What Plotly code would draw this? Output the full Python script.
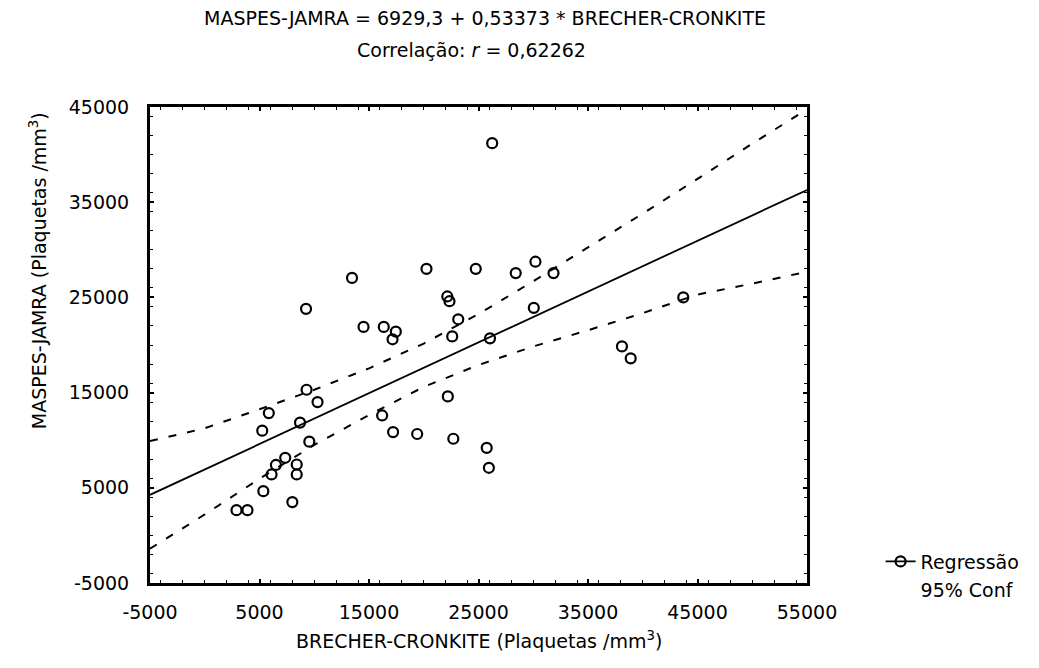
import plotly.graph_objects as go

# ---- data ----
brecher_cronkite = [26250, 13450, 20250, 24750, 28400, 30200, 31850, 9250, 14500, 16350,
                    17450, 17150, 22150, 22350, 23150, 22600, 26050, 30050, 43700, 38100,
                    38900, 22200, 16200, 17200, 19400, 22700, 25750, 25950, 9300, 10300,
                    5850, 5250, 8700, 9550, 7350, 6500, 6100, 8400, 8400, 5350,
                    8000, 2900, 3900]
maspes_jamra = [41200, 27050, 28000, 28000, 27550, 28750, 27550, 23800, 21900, 21900,
                21400, 20600, 25100, 24600, 22700, 20900, 20700, 23900, 25000, 19850,
                18600, 14600, 12600, 10850, 10650, 10150, 9200, 7100, 15300, 14000,
                12850, 11000, 11850, 9850, 8150, 7400, 6400, 7450, 6400, 4650,
                3500, 2650, 2650]

reg_x = [-5000, 55000]
reg_y = [4261, 36284]

band_x = [-5000, 0, 5000, 10000, 15000, 20000, 25000, 30000, 35000, 40000, 45000, 50000, 55000]
band_upper = [9900, 11250, 13250, 15300, 17550, 20150, 23250, 26700, 30250, 33800, 37450, 41150, 44750]
band_lower = [-1400, 2200, 5950, 9500, 12650, 15600, 17900, 19850, 21550, 23350, 25300, 26450, 27700]

x_ticks = [-5000, 5000, 15000, 25000, 35000, 45000, 55000]
y_ticks = [-5000, 5000, 15000, 25000, 35000, 45000]

title_line1 = "MASPES-JAMRA = 6929,3 + 0,53373 * BRECHER-CRONKITE"
title_line2 = "Correlação: <i>r</i> = 0,62262"
x_title = "BRECHER-CRONKITE (Plaquetas /mm<sup>3</sup>)"
y_title = "MASPES-JAMRA (Plaquetas /mm<sup>3</sup>)"

FONT = "DejaVu Sans, Verdana, sans-serif"
FS = 19

fig = go.Figure()

dash_style = dict(color="black", width=2, dash="8px,11px")
fig.add_trace(go.Scatter(x=band_x, y=band_upper, mode="lines", line=dash_style,
                         showlegend=False, hoverinfo="skip"))
fig.add_trace(go.Scatter(x=band_x, y=band_lower, mode="lines", line=dash_style,
                         showlegend=False, hoverinfo="skip"))
fig.add_trace(go.Scatter(x=reg_x, y=reg_y, mode="lines",
                         line=dict(color="black", width=1.8),
                         showlegend=False))
fig.add_trace(go.Scatter(x=brecher_cronkite, y=maspes_jamra, mode="markers",
                         marker=dict(symbol="circle-open", size=10, color="black",
                                     line=dict(width=2.2, color="black")),
                         showlegend=False))
# legend entries
fig.add_trace(go.Scatter(x=[None], y=[None], mode="lines+markers", name="Regressão",
                         line=dict(color="black", width=1.8),
                         marker=dict(symbol="circle-open", size=10, color="black",
                                     line=dict(width=2.2, color="black"))))
fig.add_trace(go.Scatter(x=[None], y=[None], mode="lines", name="95% Conf",
                         line=dict(color="rgba(0,0,0,0)", width=1)))

axis_common = dict(
    showgrid=False, zeroline=False, showline=True, linewidth=3, linecolor="black",
    mirror="ticks", ticks="inside", ticklen=4, tickwidth=1.5, tickcolor="black",
    tickfont=dict(family=FONT, size=FS, color="black"),
    minor=dict(ticks="inside", ticklen=3, tickwidth=1.3, tickcolor="black", dtick=2000, showgrid=False),
)

fig.update_layout(
    width=1039, height=668,
    margin=dict(l=150, r=232, t=107, b=85),
    paper_bgcolor="white", plot_bgcolor="white",
    font=dict(family=FONT, color="black"),
    xaxis=dict(range=[-5000, 55000], tickmode="array", tickvals=x_ticks,
               ticktext=[str(v) for v in x_ticks], ticklabelstandoff=10,
               **axis_common),
    yaxis=dict(range=[-5000, 45000], tickmode="array", tickvals=y_ticks,
               ticktext=[str(v) for v in y_ticks], ticklabelstandoff=14,
               **axis_common),
    legend=dict(x=1.112, y=0.085, xanchor="left", yanchor="top",
                font=dict(family=FONT, size=FS, color="black"),
                bgcolor="rgba(0,0,0,0)", tracegroupgap=0, itemwidth=30),
    annotations=[
        dict(text=title_line1, xref="paper", yref="paper", x=0.51, y=1.0, yshift=89,
             showarrow=False, xanchor="center", yanchor="middle",
             font=dict(family=FONT, size=FS, color="black")),
        dict(text=title_line2, xref="paper", yref="paper", x=0.49, y=1.0, yshift=57,
             showarrow=False, xanchor="center", yanchor="middle",
             font=dict(family=FONT, size=FS, color="black")),
        dict(text=x_title, xref="paper", yref="paper", x=0.5, y=0.0, yshift=-57,
             showarrow=False, xanchor="center", yanchor="middle",
             font=dict(family=FONT, size=FS, color="black")),
        dict(text=y_title, xref="paper", yref="paper", x=0.0, xshift=-112, y=0.655,
             textangle=-90, showarrow=False, xanchor="center", yanchor="middle",
             font=dict(family=FONT, size=FS, color="black")),
    ],
)

fig.write_html("out.html")
